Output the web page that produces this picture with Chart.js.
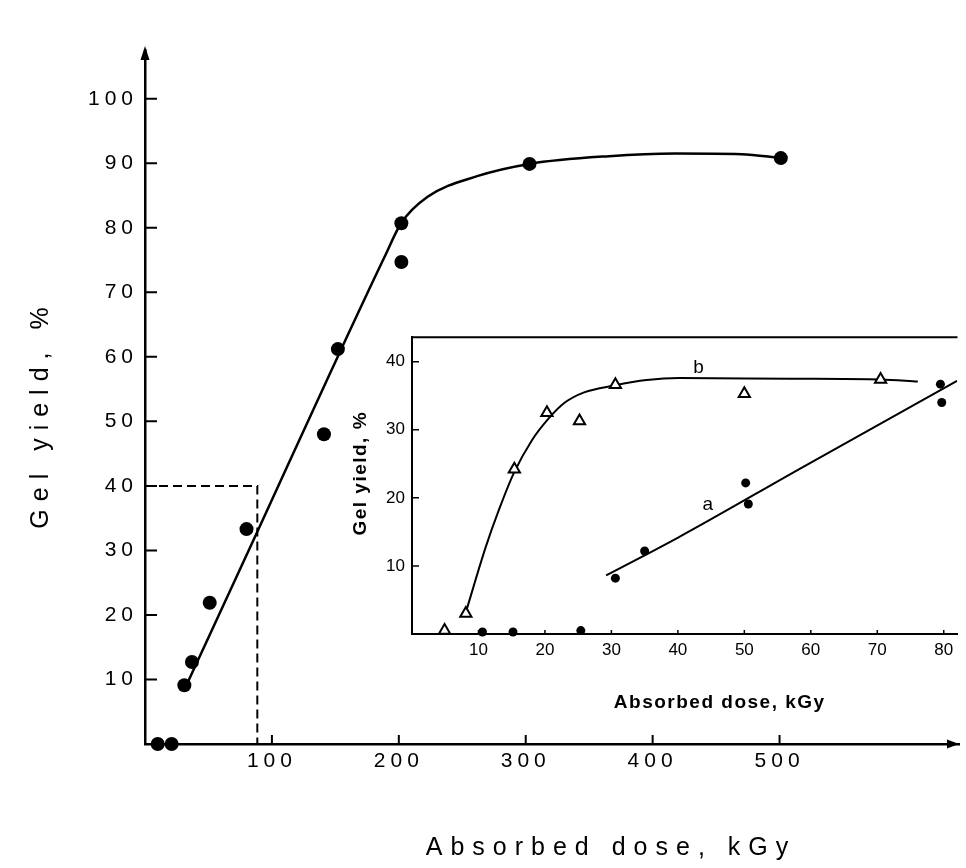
<!DOCTYPE html>
<html>
<head>
<meta charset="utf-8">
<script src="https://cdn.jsdelivr.net/npm/chart.js@4.4.1/dist/chart.umd.min.js"></script>
<style>
  body { margin: 0; background: #fff; }
  #wrap { position: relative; width: 966px; height: 868px; overflow: hidden; }
  #main { position: absolute; left: 0; top: 0; }
  #inset { position: absolute; left: 330px; top: 320px; }
</style>
</head>
<body>
<div id="wrap">
  <canvas id="main" width="966" height="868"></canvas>
  <canvas id="inset" width="636" height="400"></canvas>
</div>
<script>
// main plot, whole dose range
const mainDose = [10, 21, 31, 37, 51, 80, 141, 152, 202, 202, 303, 501];
const mainGel  = [0, 0, 9.1, 12.7, 21.9, 33.3, 48.0, 61.2, 80.7, 74.7, 89.9, 90.8];
const mainCurveDose = [33.8, 88.5, 147.1, 188.8, 201.8, 222.7, 261.7, 302.9, 365.6, 418, 470, 501.3];
const mainCurveGel  = [9.6, 32.9, 58.0, 75.5, 80.7, 84.8, 88.0, 89.9, 91.1, 91.5, 91.4, 90.8];
const guideDose = [0, 88.5, 88.5];
const guideGel  = [40, 40, 0];
const mainXTicks = [100, 200, 300, 400, 500];
const mainYTicks = [10, 20, 30, 40, 50, 60, 70, 80, 90, 100];

// inset, low doses: a = dots, b = triangles
const doseA = [10.6, 15.2, 25.4, 30.6, 35.0, 50.2, 50.6, 79.5, 79.7];
const gelA  = [0.3, 0.3, 0.5, 8.2, 12.2, 22.2, 19.1, 36.7, 34.0];
const doseB = [4.9, 8.1, 15.4, 20.3, 25.2, 30.6, 50.0, 70.5];
const gelB  = [0.5, 3.0, 24.2, 32.5, 31.3, 36.6, 35.3, 37.4];
const curveADose = [29.2, 40.1, 58.4, 82];
const curveAGel  = [8.6, 14.2, 24.3, 37.2];
const curveBDose = [8.1, 11.1, 13.1, 15.3, 18.0, 20.5, 23.0, 25.9, 30.4, 35.3, 40.2, 57.0, 70.5, 76.1];
const curveBGel  = [3.2, 12.8, 18.3, 23.6, 28.4, 31.6, 34.0, 35.5, 36.5, 37.3, 37.6, 37.5, 37.4, 37.1];
const insetXTicks = [10, 20, 30, 40, 50, 60, 70, 80];
const insetYTicks = [10, 20, 30, 40];

Chart.defaults.font.family = 'Liberation Sans';
Chart.defaults.color = '#000';

const pts = (xs, ys) => xs.map((x, i) => ({ x: x, y: ys[i] }));
const setTicks = list => scale => { scale.ticks = list.map(v => ({ value: v })); };

// tick marks pointing into the plot
function inwardTicks(xLen, yLen, width) {
  return {
    id: 'inwardTicks',
    afterDraw(chart) {
      const { ctx, chartArea } = chart;
      const sx = chart.scales.x, sy = chart.scales.y;
      ctx.save();
      ctx.strokeStyle = '#000';
      ctx.lineWidth = width;
      ctx.beginPath();
      sx.ticks.forEach(t => {
        const px = sx.getPixelForValue(t.value);
        ctx.moveTo(px, chartArea.bottom);
        ctx.lineTo(px, chartArea.bottom - xLen);
      });
      sy.ticks.forEach(t => {
        const py = sy.getPixelForValue(t.value);
        ctx.moveTo(chartArea.left, py);
        ctx.lineTo(chartArea.left + yLen, py);
      });
      ctx.stroke();
      ctx.restore();
    }
  };
}

// free text: axis titles and curve labels
function texts(items) {
  return {
    id: 'texts',
    afterDraw(chart) {
      const ctx = chart.ctx;
      items.forEach(it => {
        ctx.save();
        ctx.font = it.font;
        ctx.letterSpacing = (it.spacing || 0) + 'px';
        ctx.fillStyle = '#000';
        ctx.textAlign = 'center';
        ctx.textBaseline = 'middle';
        let x = it.x, y = it.y;
        if (it.at) {
          x = chart.scales.x.getPixelForValue(it.at[0]);
          y = chart.scales.y.getPixelForValue(it.at[1]);
        }
        ctx.translate(x, y);
        if (it.rotate) ctx.rotate(it.rotate);
        ctx.fillText(it.text, (it.spacing || 0) / 2, 0);
        ctx.restore();
      });
    }
  };
}

const spacedTicks = {
  id: 'spacedTicks',
  beforeDraw(chart) { chart.ctx.letterSpacing = '5px'; }
};

const arrows = {
  id: 'arrows',
  afterDraw(chart) {
    const { ctx, chartArea: a } = chart;
    ctx.save();
    ctx.letterSpacing = '0px';
    ctx.fillStyle = '#000';
    ctx.beginPath();
    ctx.moveTo(a.left, a.top - 4);
    ctx.lineTo(a.left - 4.5, a.top + 10);
    ctx.lineTo(a.left + 4.5, a.top + 10);
    ctx.closePath();
    ctx.fill();
    ctx.beginPath();
    ctx.moveTo(a.right, a.bottom);
    ctx.lineTo(a.right - 12, a.bottom - 4.5);
    ctx.lineTo(a.right - 12, a.bottom + 4.5);
    ctx.closePath();
    ctx.fill();
    ctx.restore();
  }
};

const topFrame = {
  id: 'topFrame',
  afterDraw(chart) {
    const { ctx, chartArea: a } = chart;
    ctx.save();
    ctx.strokeStyle = '#000';
    ctx.lineWidth = 2;
    ctx.beginPath();
    ctx.moveTo(a.left - 1, a.top);
    ctx.lineTo(a.right, a.top);
    ctx.stroke();
    ctx.restore();
  }
};

function axis(min, max, list, size, fontSize, pad, border) {
  return {
    type: 'linear', min: min, max: max,
    afterBuildTicks: setTicks(list),
    afterFit: s => { if (s.isHorizontal()) s.height = size; else s.width = size; },
    grid: { drawOnChartArea: false, drawTicks: false },
    border: { color: '#000', width: border },
    ticks: { color: '#000', padding: pad, font: { size: fontSize } }
  };
}

new Chart(document.getElementById('main'), {
  type: 'scatter',
  data: {
    datasets: [
      { data: pts(mainDose, mainGel), pointRadius: 7, pointBackgroundColor: '#000',
        pointBorderWidth: 0, clip: false },
      { data: pts(mainCurveDose, mainCurveGel), showLine: true, borderColor: '#000',
        borderWidth: 2.5, pointRadius: 0, cubicInterpolationMode: 'monotone' },
      { data: pts(guideDose, guideGel), showLine: true, borderColor: '#000',
        borderWidth: 2, borderDash: [9, 5], pointRadius: 0 }
    ]
  },
  options: {
    responsive: false, animation: false, events: [],
    layout: { padding: { top: 50, right: 0, bottom: 0, left: 0 } },
    plugins: { legend: { display: false }, tooltip: { enabled: false } },
    scales: {
      x: axis(0, 641.4, mainXTicks, 124, 21, 5, 2.5),
      y: axis(0, 107.55, mainYTicks, 145, 21, 7, 2.5)
    }
  },
  plugins: [spacedTicks, inwardTicks(9, 12, 2), arrows, texts([
    { text: 'Gel yield, %', x: 41, y: 418, rotate: -Math.PI / 2, font: '25px Liberation Sans', spacing: 8 },
    { text: 'Absorbed dose, kGy', x: 607, y: 848, font: '25px Liberation Sans', spacing: 8 }
  ])]
});

new Chart(document.getElementById('inset'), {
  type: 'scatter',
  data: {
    datasets: [
      { data: pts(doseA, gelA), pointRadius: 4.5, pointBackgroundColor: '#000',
        pointBorderWidth: 0, clip: false },
      { data: pts(doseB, gelB), pointStyle: 'triangle', pointRadius: 6.5,
        pointBackgroundColor: '#fff', pointBorderColor: '#000', pointBorderWidth: 2, clip: false },
      { data: pts(curveADose, curveAGel), showLine: true, borderColor: '#000',
        borderWidth: 2, pointRadius: 0, cubicInterpolationMode: 'monotone' },
      { data: pts(curveBDose, curveBGel), showLine: true, borderColor: '#000',
        borderWidth: 2, pointRadius: 0, cubicInterpolationMode: 'monotone' }
    ]
  },
  options: {
    responsive: false, animation: false, events: [],
    layout: { padding: { top: 16, right: 0, bottom: 0, left: 0 } },
    plugins: { legend: { display: false }, tooltip: { enabled: false } },
    scales: {
      x: axis(0, 82.07, insetXTicks, 86, 17, 6, 2),
      y: axis(0, 43.6, insetYTicks, 82, 17, 7, 2)
    }
  },
  plugins: [inwardTicks(4, 7, 1.5), topFrame, texts([
    { text: 'Gel yield, %', x: 31, y: 154, rotate: -Math.PI / 2, font: 'bold 19px Liberation Sans', spacing: 1.5 },
    { text: 'Absorbed dose, kGy', x: 389, y: 383, font: 'bold 19px Liberation Sans', spacing: 1.5 },
    { text: 'b', at: [43.1, 39.1], font: '19px Liberation Sans' },
    { text: 'a', at: [44.5, 19.0], font: '19px Liberation Sans' }
  ])]
});
</script>
</body>
</html>
